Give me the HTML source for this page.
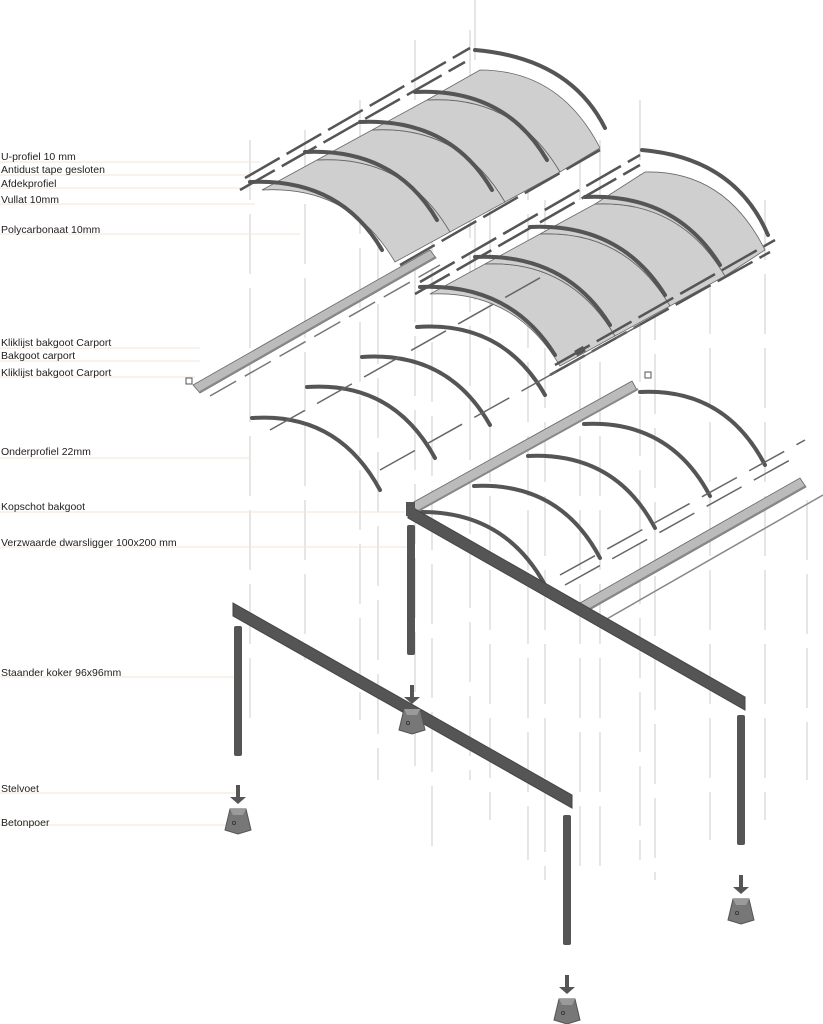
<!DOCTYPE html>
<html><head><meta charset="utf-8"><style>
html,body{margin:0;padding:0;background:#fff;}
svg{display:block;}
text{font-family:"Liberation Sans",sans-serif;font-size:10.5px;fill:#222;}
</style></head><body>
<svg width="823" height="1024" viewBox="0 0 823 1024" xmlns="http://www.w3.org/2000/svg">
<defs>
<g id="foot">
 <rect x="-2" y="0" width="4" height="13" fill="#555"/>
 <polygon points="-8,12 8,12 0,19" fill="#555"/>
 <polygon points="-8,24 8,24 13,45 0,49 -13,45" fill="#777" stroke="#555" stroke-width="1"/>
 <polygon points="-8,24 8,24 5,30 -5,30" fill="#9a9a9a"/>
 <circle cx="-4" cy="38" r="1.6" fill="none" stroke="#333" stroke-width="0.8"/>
</g>
</defs>
<g stroke="#d4d4d4" stroke-width="1.2" stroke-dasharray="60,14">
 <line x1="250" y1="140" x2="250" y2="720"/>
 <line x1="305" y1="130" x2="305" y2="660"/>
 <line x1="360" y1="100" x2="360" y2="720"/>
 <line x1="378" y1="230" x2="378" y2="780"/>
 <line x1="415" y1="40" x2="415" y2="780"/>
 <line x1="432" y1="120" x2="432" y2="860"/>
 <line x1="470" y1="30" x2="470" y2="780"/>
 <line x1="475" y1="0" x2="475" y2="300"/>
 <line x1="490" y1="200" x2="490" y2="820"/>
 <line x1="528" y1="140" x2="528" y2="860"/>
 <line x1="545" y1="200" x2="545" y2="880"/>
 <line x1="580" y1="140" x2="580" y2="880"/>
 <line x1="600" y1="140" x2="600" y2="880"/>
 <line x1="640" y1="100" x2="640" y2="860"/>
 <line x1="655" y1="280" x2="655" y2="880"/>
 <line x1="710" y1="200" x2="710" y2="840"/>
 <line x1="765" y1="200" x2="765" y2="820"/>
 <line x1="807" y1="500" x2="807" y2="780"/>
</g>
<g stroke="#f3e6d6" stroke-width="1">
 <line x1="0" y1="162" x2="260" y2="162"/>
 <line x1="0" y1="175" x2="255" y2="175"/>
 <line x1="0" y1="188" x2="250" y2="188"/>
 <line x1="0" y1="204" x2="255" y2="204"/>
 <line x1="0" y1="234" x2="300" y2="234"/>
 <line x1="0" y1="348" x2="200" y2="348"/>
 <line x1="0" y1="361" x2="200" y2="361"/>
 <line x1="0" y1="377" x2="195" y2="377"/>
 <line x1="0" y1="458" x2="250" y2="458"/>
 <line x1="0" y1="512" x2="405" y2="512"/>
 <line x1="0" y1="547" x2="410" y2="547"/>
 <line x1="0" y1="677" x2="235" y2="677"/>
 <line x1="0" y1="793" x2="235" y2="793"/>
 <line x1="0" y1="825" x2="230" y2="825"/>
</g>
<text x="1" y="160">U-profiel 10 mm</text>
<text x="1" y="173">Antidust tape gesloten</text>
<text x="1" y="187">Afdekprofiel</text>
<text x="1" y="203">Vullat 10mm</text>
<text x="1" y="233">Polycarbonaat 10mm</text>
<text x="1" y="346">Kliklijst bakgoot Carport</text>
<text x="1" y="359">Bakgoot carport</text>
<text x="1" y="376">Kliklijst bakgoot Carport</text>
<text x="1" y="455">Onderprofiel 22mm</text>
<text x="1" y="510">Kopschot bakgoot</text>
<text x="1" y="546">Verzwaarde dwarsligger 100x200 mm</text>
<text x="1" y="676">Staander koker 96x96mm</text>
<text x="1" y="792">Stelvoet</text>
<text x="1" y="826">Betonpoer</text>

<g fill="#cfcfcf" stroke="#666" stroke-width="0.8">
 <path d="M262,190 Q350,185 395,262 L450,232 Q405,155 317,160 Z"/>
 <path d="M317,160 Q405,155 450,232 L505,202 Q460,125 372,130 Z"/>
 <path d="M372,130 Q460,125 505,202 L560,172 Q515,95 427,100 Z"/>
 <path d="M427,100 Q515,95 560,172 L600,148 Q560,70 480,70 Z"/>
 <path d="M430,294 Q515,290 560,366 L615,336 Q570,260 485,264 Z"/>
 <path d="M485,264 Q570,260 615,336 L670,306 Q625,230 540,234 Z"/>
 <path d="M540,234 Q625,230 670,306 L725,276 Q680,200 595,204 Z"/>
 <path d="M595,204 Q680,200 725,276 L765,250 Q725,170 645,172 Z"/>
</g>
<g fill="none" stroke="#555" stroke-width="4" stroke-linecap="round">
 <path d="M250,182 Q340,178 382,250"/>
 <path d="M305,152 Q395,148 437,220"/>
 <path d="M360,122 Q450,118 492,190"/>
 <path d="M415,92 Q505,88 547,160"/>
 <path d="M475,50 Q570,58 605,128"/>
 <path d="M420,287 Q510,283 555,355"/>
 <path d="M475,257 Q565,253 610,325"/>
 <path d="M530,227 Q620,223 665,295"/>
 <path d="M585,197 Q675,193 720,265"/>
 <path d="M642,150 Q735,158 768,235"/>
</g>
<g stroke="#555" stroke-width="2.5" stroke-dasharray="40,8">
 <line x1="245" y1="178" x2="470" y2="48"/>
 <line x1="240" y1="190" x2="465" y2="62"/>
 <line x1="420" y1="282" x2="640" y2="155"/>
 <line x1="415" y1="294" x2="640" y2="165"/>
 <line x1="400" y1="265" x2="600" y2="150"/>
 <line x1="555" y1="365" x2="775" y2="240"/>
 <line x1="550" y1="375" x2="770" y2="252"/>
</g>
<g>
 <polygon points="193,385 430,250 436,258 200,393" fill="#bbb" stroke="#666" stroke-width="0.8"/>
 <line x1="200" y1="392" x2="436" y2="257" stroke="#888" stroke-width="2"/>
 <line x1="210" y1="396" x2="440" y2="265" stroke="#777" stroke-width="1.5" stroke-dasharray="30,10"/>
 <rect x="186" y="378" width="6" height="6" fill="none" stroke="#555"/>
 <rect x="645" y="372" width="6" height="6" fill="none" stroke="#555"/>
 <rect x="575" y="348" width="10" height="6" fill="#555" transform="rotate(-30 580 351)"/>
</g>
<g fill="none" stroke="#555" stroke-width="4" stroke-linecap="round">
 <path d="M252,418 Q338,412 380,490"/>
 <path d="M307,387 Q393,381 435,458"/>
 <path d="M362,357 Q448,351 490,425"/>
 <path d="M417,327 Q503,321 545,395"/>
 <path d="M422,512 Q505,512 545,585"/>
 <path d="M474,486 Q560,482 600,558"/>
 <path d="M528,456 Q615,452 655,528"/>
 <path d="M584,424 Q670,420 710,496"/>
 <path d="M640,392 Q725,388 765,465"/>
</g>
<g stroke="#666" stroke-width="1.5" stroke-dasharray="40,14">
 <line x1="270" y1="430" x2="545" y2="275"/>
 <line x1="380" y1="470" x2="640" y2="325"/>
 <line x1="565" y1="585" x2="790" y2="460"/>
 <line x1="560" y1="575" x2="805" y2="440"/>
</g>
<polygon points="412,503 632,381 637,390 417,512" fill="#bbb" stroke="#666" stroke-width="0.8"/>
<line x1="418" y1="511" x2="638" y2="389" stroke="#888" stroke-width="2"/>
<polygon points="580,603 800,478 806,487 586,612" fill="#bbb" stroke="#666" stroke-width="0.8"/>
<line x1="586" y1="611" x2="806" y2="486" stroke="#888" stroke-width="2"/>
<line x1="605" y1="620" x2="823" y2="495" stroke="#888" stroke-width="1.5"/>
<polygon points="408,505 745,697 745,710 408,518" fill="#555" stroke="#444"/>
<rect x="406" y="502" width="9" height="14" fill="#555"/>
<rect x="407" y="525" width="8" height="130" rx="2" fill="#555"/>
<rect x="737" y="715" width="8" height="130" rx="2" fill="#555"/>
<polygon points="233,603 572,795 572,808 233,616" fill="#555" stroke="#444"/>
<rect x="234" y="626" width="8" height="130" rx="2" fill="#555"/>
<rect x="563" y="815" width="8" height="130" rx="2" fill="#555"/>
<use href="#foot" x="238" y="785"/>
<use href="#foot" x="412" y="685"/>
<use href="#foot" x="567" y="975"/>
<use href="#foot" x="741" y="875"/>
</svg>
</body></html>
